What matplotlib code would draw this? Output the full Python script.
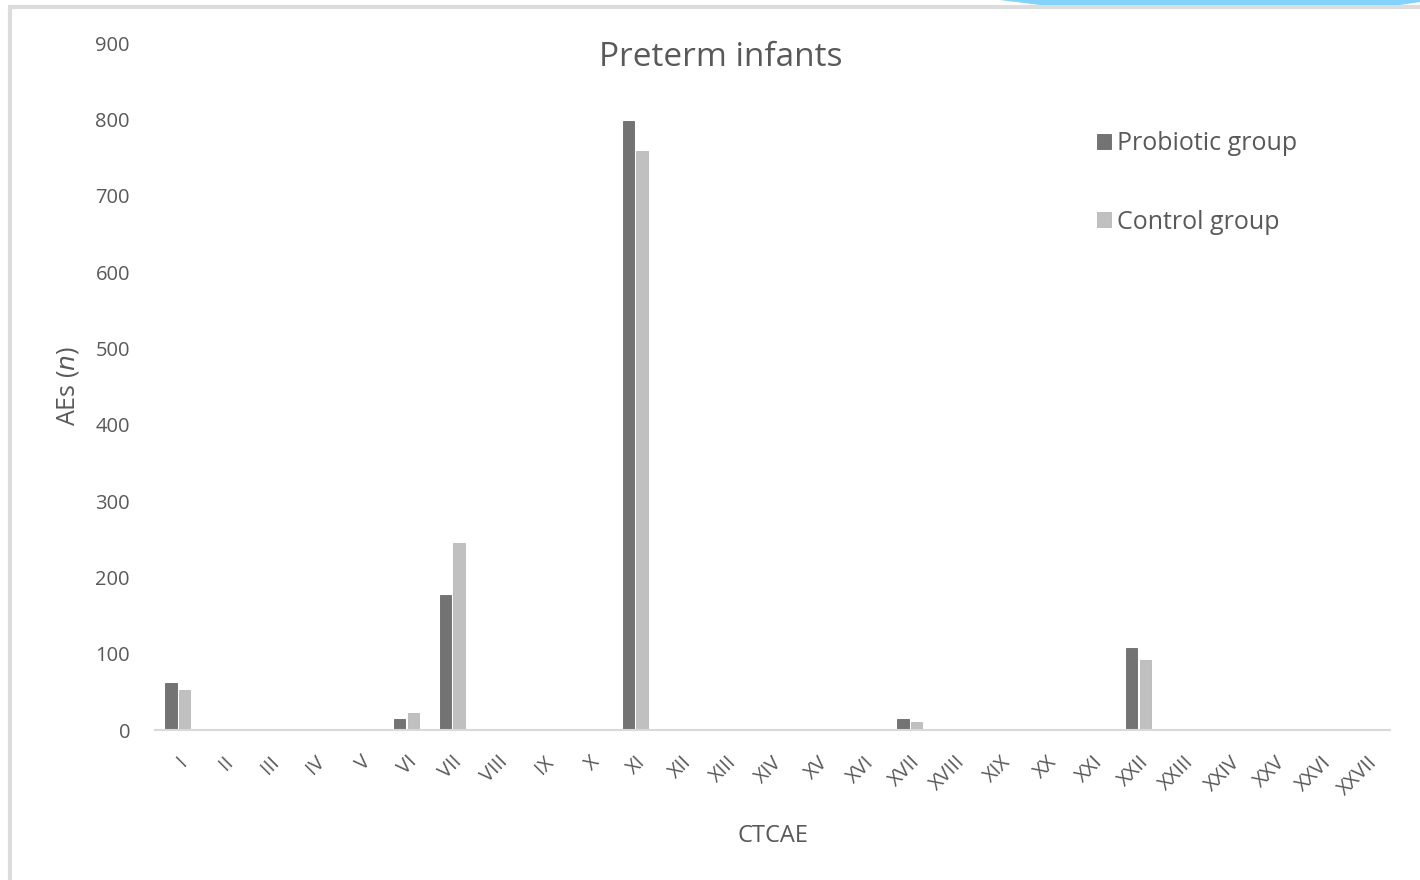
import matplotlib
matplotlib.use("Agg")
import matplotlib.pyplot as plt
import matplotlib.patches as mpatches
import numpy as np

# Categorias CTCAE y numero de eventos adversos por grupo
categorias = ['I', 'II', 'III', 'IV', 'V', 'VI', 'VII', 'VIII', 'IX', 'X',
              'XI', 'XII', 'XIII', 'XIV', 'XV', 'XVI', 'XVII', 'XVIII', 'XIX',
              'XX', 'XXI', 'XXII', 'XXIII', 'XXIV', 'XXV', 'XXVI', 'XXVII']
probiotico = [62, 0, 0, 0, 0, 14, 177, 0, 0, 0, 798, 0, 0, 0, 0, 0, 14, 0, 0,
              0, 0, 107, 0, 0, 0, 0, 0]
control = [52, 0, 0, 0, 0, 22, 245, 0, 0, 0, 758, 0, 0, 0, 0, 0, 11, 0, 0,
           0, 0, 92, 0, 0, 0, 0, 0]
yticks = [0, 100, 200, 300, 400, 500, 600, 700, 800, 900]

plt.rcParams['font.family'] = ['Open Sans', 'DejaVu Sans']
texto = '#595959'

fig = plt.figure(figsize=(14.2, 8.8), dpi=100)

# marco gris y banda azul de la diapositiva
fig.patches.append(mpatches.Rectangle((10/1420, -0.1), 1.2, 1 - 7/880 + 0.1,
                                      transform=fig.transFigure, fill=False,
                                      edgecolor='#dcdcdc', linewidth=3))
fig.patches.append(mpatches.Polygon([(1000/1420, 1), (1040/1420, 1 - 5/880),
                                     (1400/1420, 1 - 5/880), (1, 1 - 2/880), (1, 1)],
                                    closed=True, transform=fig.transFigure,
                                    facecolor='#82d2fb', edgecolor='none'))

ax = fig.add_axes([155/1420, 1 - 730/880, 1235/1420, 687/880])

x = np.arange(len(categorias))
ancho = 0.245
ax.bar(x - 0.148, probiotico, ancho, color='#737373', edgecolor='#6a6a6a',
       linewidth=0.6, label='Probiotic group')
ax.bar(x + 0.148, control, ancho, color='#c0c0c0', edgecolor='#b8b8b8',
       linewidth=0.6, label='Control group')

ax.set_xlim(-0.5, len(categorias) - 0.5)
ax.set_ylim(0, 900)
ax.set_yticks(yticks)
ax.set_yticklabels([str(v) for v in yticks], fontsize=14.5, color=texto)
ax.set_xticks(x)
ax.set_xticklabels(categorias, rotation=45, ha='right', rotation_mode='anchor',
                   fontsize=14.5, color=texto)
ax.tick_params(axis='both', length=0)
ax.tick_params(axis='y', pad=18)
ax.tick_params(axis='x', pad=16)

for lado in ['top', 'right', 'left']:
    ax.spines[lado].set_visible(False)
ax.spines['bottom'].set_color('#d9d9d9')
ax.spines['bottom'].set_linewidth(1.5)

fig.text(721/1420, 1 - 58/880, 'Preterm infants', fontsize=24, color=texto,
         ha='center', va='center')
ax.set_xlabel('CTCAE', fontsize=17, color=texto, labelpad=18)
ax.set_ylabel('AEs ($\\it{n}$)', fontsize=18, color=texto, labelpad=10)

fig.legend(loc='upper left', bbox_to_anchor=(1097/1420, 1 - 131/880), frameon=False,
           fontsize=18, labelcolor=texto, handlelength=0.55, handleheight=0.55,
           handletextpad=0.25, labelspacing=2.15, borderaxespad=0, borderpad=0)

fig.savefig('out.png', dpi=100, facecolor='white')
